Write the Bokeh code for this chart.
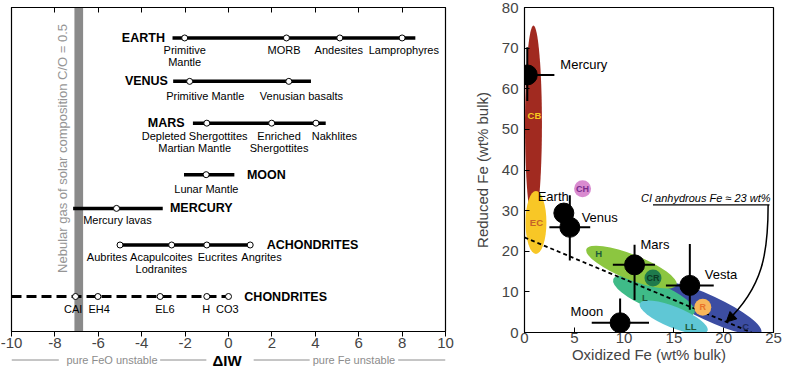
import math
from bokeh.plotting import figure
from bokeh.models import Range1d, LinearAxis, FixedTicker, Arrow, NormalHead
from bokeh.layouts import row, column
from bokeh.embed import file_html
from bokeh.resources import INLINE
from bokeh.core.properties import value

FONT = "Liberation Sans"

# ---------------- Left panel data (ΔIW) ----------------
DIW_TICKS = [-10, -8, -6, -4, -2, 0, 2, 4, 6, 8, 10]
NEBULAR_BAND = [-7.1, -6.7]
NEBULAR_TEXT = "Nebular gas of solar composition C/O = 0.5"

ROW_NAMES = ["EARTH", "VENUS", "MARS", "MOON", "MERCURY", "ACHONDRITES", "CHONDRITES"]
ROW_Y = [90.6, 77.2, 64.3, 48.4, 38.0, 26.7, 10.8]
ROW_START = [-2.58, -2.55, -1.64, -2.05, -7.16, -5.0, -10.0]
ROW_END = [8.61, 3.80, 4.48, 0.27, -3.03, 1.0, 0.0]
ROW_DASHED = [False, False, False, False, False, False, True]
NAME_X = [-2.93, -2.79, -2.02, 0.85, -2.70, 1.76, 0.73]
NAME_ALIGN = ["right", "right", "right", "left", "left", "left", "left"]
ROW_POINTS = [
    [-2.02, 2.67, 5.13, 8.0],
    [-1.79, 2.78],
    [-1.0, 1.99, 4.03],
    [-1.03],
    [-5.16],
    [-5.0, -2.62, -1.0, 1.0],
    [-7.05, -6.02, -3.15, -1.0, 0.0],
]
ROW_LABELS = [
    [("Primitive", "Mantle", -2.02), ("MORB", "", 2.56), ("Andesites", "", 5.08), ("Lamprophyres", "", 8.08)],
    [("Primitive Mantle", "", -1.07), ("Venusian basalts", "", 3.36)],
    [("Depleted Shergottites", "Martian Mantle", -1.56), ("Enriched", "Shergottites", 2.33), ("Nakhlites", "", 4.88)],
    [("Lunar Mantle", "", -1.02)],
    [("Mercury lavas", "", -5.12)],
    [("Aubrites", "", -5.6), ("Acapulcoites", "Lodranites", -3.1), ("Eucrites", "", -0.5), ("Angrites", "", 1.52)],
    [("CAI", "", -7.16), ("EH4", "", -5.96), ("EL6", "", -2.93), ("H", "", -1.03), ("CO3", "", -0.05)],
]
LABEL_DY = [12, 15, 13, 14, 12, 12, 12]

NOTE_SEG_X0 = [-10.0, -3.15, 1.16, 7.82]
NOTE_SEG_X1 = [-7.82, -1.02, 3.74, 10.0]
NOTE_TEXT = ["pure FeO unstable", "pure Fe unstable"]
NOTE_TEXT_X = [-5.37, 5.78]
NOTE_TITLE = "ΔIW"
NOTE_TITLE_X = -0.07

# ---------------- Right panel data ----------------
OX_TICKS = [0, 5, 10, 15, 20, 25]
RED_TICKS = [0, 10, 20, 30, 40, 50, 60, 70, 80]

# upright ellipses (data units)
UP_NAMES = ["CB", "EC"]
UP_X = [0.9, 1.15]
UP_Y = [51.3, 27.1]
UP_W = [1.7, 2.1]
UP_H = [48.5, 15.5]
UP_COLOR = ["#a12a20", "#f8c726"]

# tilted ellipses (centre in data units)
TI_NAMES = ["C", "L", "H", "LL"]
TI_X = [18.58, 13.0, 10.74, 14.98]
TI_Y = [5.98, 9.0, 16.1, 3.77]
TI_LEN = [114, 88, 97, 73]
TI_THK = [25, 26, 25, 21]
TI_ANG = [-25.0, -22.5, -21.8, -22.0]
TI_COLOR = ["#3c4da2", "#3fbb88", "#8cc640", "#5fc7d5"]

ELL_LABELS = ["CB", "EC", "H", "L", "LL", "C"]
ELL_LABEL_X = [1.0, 1.2, 7.46, 12.1, 16.7, 22.2]
ELL_LABEL_Y = [53.4, 27.2, 19.4, 8.5, 1.6, 1.6]
ELL_LABEL_COLOR = ["#f7c81e", "#c4622a", "#1d5b3a", "#1d5b3a", "#1d5b3a", "#1e2a5a"]

DOT_NAMES = ["CH", "CR", "R"]
DOT_X = [5.83, 12.9, 17.9]
DOT_Y = [35.4, 13.4, 6.2]
DOT_FILL = ["#d98bd0", "#1f7a4c", "#f8b65a"]
DOT_TEXT = ["#7b2c8c", "#0c3a24", "#e8732a"]

CI_X = [0.0, 22.8]
CI_Y = [23.4, 0.0]

PLANETS = ["Mercury", "Earth", "Venus", "Mars", "Vesta", "Moon"]
P_X = [0.28, 3.95, 4.55, 11.05, 16.6, 9.6]
P_Y = [63.4, 29.4, 25.9, 16.65, 11.6, 2.4]
P_XLO = [-2.4, 3.95, 2.5, 8.87, 14.2, 6.75]
P_XHI = [3.0, 3.95, 6.6, 13.1, 19.0, 12.5]
P_YLO = [57.0, 29.4, 17.7, 8.0, 5.6, -3.6]
P_YHI = [70.2, 29.4, 33.8, 21.6, 21.8, 8.4]
P_LBL_X = [3.6, 1.32, 5.74, 11.65, 18.1, 4.63]
P_LBL_Y = [66.0, 33.4, 28.2, 21.6, 14.4, 5.2]

CI_NOTE = "CI anhydrous Fe ≈ 23 wt%"
CI_NOTE_X = 24.7
CI_NOTE_Y = 31.4
CI_UNDERLINE_X = [12.9, 24.6]
ARROW_START = (24.46, 31.4)
ARROW_C1 = (24.46, 19.6)
ARROW_C2 = (23.97, 11.2)
ARROW_END = (20.25, 2.57)

# ======================= LEFT PANEL =======================
left = figure(width=457, height=351, x_range=Range1d(-10, 10), y_range=Range1d(0, 100),
              output_backend="svg", toolbar_location=None, y_axis_location=None,
              min_border_left=11, min_border_right=12, min_border_top=7, min_border_bottom=20)
left.outline_line_color = "black"
left.outline_line_width = 1.2
left.grid.visible = False
ax = left.xaxis[0]
ax.ticker = FixedTicker(ticks=DIW_TICKS)
ax.major_label_overrides = {t: str(t) for t in DIW_TICKS}
ax.major_tick_out = 5
ax.major_tick_in = 0
ax.minor_tick_line_color = None
ax.major_label_text_font = FONT
ax.major_label_text_font_size = "15px"
ax.major_label_standoff = 1
ax.axis_line_color = "black"

top = LinearAxis(ticker=FixedTicker(ticks=DIW_TICKS), major_tick_in=5, major_tick_out=0,
                 minor_tick_line_color=None, major_label_text_font_size="1px",
                 major_label_text_color=None, major_label_standoff=0, axis_line_color="black")
left.add_layout(top, "above")

left.quad(left=[NEBULAR_BAND[0]], right=[NEBULAR_BAND[1]], bottom=[left.y_range.start],
          top=[left.y_range.end], fill_color="#8a8a8a", line_color=None)
left.text(x=[NEBULAR_BAND[0] - 0.55], y=[56.5], text=[NEBULAR_TEXT], angle=math.pi / 2,
          text_align="center", text_baseline="middle", text_color="#959595",
          text_font=value(FONT), text_font_size="13px")

for i, name in enumerate(ROW_NAMES):
    y = ROW_Y[i]
    if ROW_DASHED[i]:
        left.line([ROW_START[i], ROW_END[i]], [y, y], line_width=3, line_color="black", line_dash="10 5")
    else:
        left.line([ROW_START[i], ROW_END[i]], [y, y], line_width=3.5, line_color="black")
    pts = ROW_POINTS[i]
    left.scatter(x=pts, y=[y] * len(pts), size=6, fill_color="white", line_color="black", line_width=1)
    left.text(x=[NAME_X[i]], y=[y], text=[name], text_align=NAME_ALIGN[i], text_baseline="middle",
              text_font=value(FONT), text_font_style="bold", text_font_size="12.5px", text_color="black")
    l1 = [lab[0] for lab in ROW_LABELS[i]]
    lx = [lab[2] for lab in ROW_LABELS[i]]
    left.text(x=lx, y=[y] * len(lx), text=l1, text_align="center", text_baseline="middle",
              y_offset=LABEL_DY[i], text_font=value(FONT), text_font_size="11px", text_color="black")
    l2 = [lab[1] for lab in ROW_LABELS[i] if lab[1]]
    lx2 = [lab[2] for lab in ROW_LABELS[i] if lab[1]]
    if l2:
        left.text(x=lx2, y=[y] * len(lx2), text=l2, text_align="center", text_baseline="middle",
                  y_offset=LABEL_DY[i] + 12, text_font=value(FONT), text_font_size="11px",
                  text_color="black")

note = figure(width=457, height=17, x_range=Range1d(-10, 10), y_range=Range1d(0, 1),
              output_backend="svg", toolbar_location=None, x_axis_location=None, y_axis_location=None,
              min_border_left=11, min_border_right=12, min_border_top=0, min_border_bottom=0)
note.outline_line_color = None
note.grid.visible = False
note.segment(x0=NOTE_SEG_X0, y0=[0.5] * 4, x1=NOTE_SEG_X1, y1=[0.5] * 4, line_color="#8c8c8c", line_width=1)
note.text(x=NOTE_TEXT_X, y=[0.5] * 2, text=NOTE_TEXT, text_align="center", text_baseline="middle",
          text_font=value(FONT), text_font_size="11px", text_color="#8c8c8c")
note.text(x=[NOTE_TITLE_X], y=[0.5], text=[NOTE_TITLE], text_align="center", text_baseline="middle",
          text_font=value(FONT), text_font_size="15px", text_font_style="bold", text_color="black")

# ======================= RIGHT PANEL =======================
r = figure(width=327, height=368, x_range=Range1d(0, 25), y_range=Range1d(0, 80),
           output_backend="svg", toolbar_location=None,
           min_border_left=67, min_border_right=11, min_border_top=7, min_border_bottom=36)
r.outline_line_color = "black"
r.outline_line_width = 1.2
r.grid.visible = False
for axis, ticks, lab in ((r.xaxis[0], OX_TICKS, "Oxidized Fe (wt% bulk)"),
                         (r.yaxis[0], RED_TICKS, "Reduced Fe (wt% bulk)")):
    axis.ticker = FixedTicker(ticks=ticks)
    axis.major_tick_in = 5
    axis.major_tick_out = 0
    axis.minor_tick_line_color = None
    axis.major_label_text_font = FONT
    axis.major_label_text_font_size = "15px"
    axis.axis_label = lab
    axis.axis_label_text_font = FONT
    axis.axis_label_text_font_size = "15px"
    axis.axis_label_text_font_style = "normal"
    axis.axis_line_color = "black"
r.xaxis[0].major_label_standoff = 0
r.xaxis[0].axis_label_standoff = 0
r.yaxis[0].major_label_standoff = 6
r.yaxis[0].axis_label_standoff = 8

r.ellipse(x=UP_X, y=UP_Y, width=UP_W, height=UP_H, fill_color=UP_COLOR, line_color=None)
r.ellipse(x=TI_X, y=TI_Y, width=TI_LEN, height=TI_THK, angle=[math.radians(a) for a in TI_ANG],
          width_units="screen", height_units="screen", fill_color=TI_COLOR, line_color=None)

r.line(CI_X, CI_Y, line_color="black", line_width=1.8, line_dash="4 3")

r.scatter(x=DOT_X, y=DOT_Y, size=17, fill_color=DOT_FILL, line_color=None)
r.text(x=DOT_X, y=DOT_Y, text=DOT_NAMES, text_color=DOT_TEXT, text_align="center", text_baseline="middle",
       text_font=value(FONT), text_font_style="bold", text_font_size="9px")
r.text(x=ELL_LABEL_X, y=ELL_LABEL_Y, text=ELL_LABELS, text_color=ELL_LABEL_COLOR, text_align="center",
       text_baseline="middle", text_font=value(FONT), text_font_style="bold", text_font_size="9.5px")

r.segment(x0=P_XLO, y0=P_Y, x1=P_XHI, y1=P_Y, line_color="black", line_width=2)
r.segment(x0=P_X, y0=P_YLO, x1=P_X, y1=P_YHI, line_color="black", line_width=2)
r.scatter(x=P_X, y=P_Y, size=20, fill_color="black", line_color="black")
r.text(x=P_LBL_X, y=P_LBL_Y, text=PLANETS, text_align="left", text_baseline="middle",
       text_font=value(FONT), text_font_size="13px", text_color="black")

r.segment(x0=[CI_UNDERLINE_X[0]], y0=[CI_NOTE_Y], x1=[CI_UNDERLINE_X[1]], y1=[CI_NOTE_Y],
          line_color="black", line_width=1.2)
r.text(x=[CI_NOTE_X], y=[CI_NOTE_Y], text=[CI_NOTE], text_align="right", text_baseline="bottom",
       y_offset=-1, text_font=value(FONT), text_font_style="italic", text_font_size="11px",
       text_color="black")
r.bezier(x0=[ARROW_START[0]], y0=[ARROW_START[1]], x1=[ARROW_END[0]], y1=[ARROW_END[1]],
         cx0=[ARROW_C1[0]], cy0=[ARROW_C1[1]], cx1=[ARROW_C2[0]], cy1=[ARROW_C2[1]],
         line_color="black", line_width=1.5)
hx = ARROW_END[0] + 0.12 * (ARROW_C2[0] - ARROW_END[0])
hy = ARROW_END[1] + 0.12 * (ARROW_C2[1] - ARROW_END[1])
r.add_layout(Arrow(end=NormalHead(size=10, fill_color="black", line_color="black"),
                   x_start=hx, y_start=hy, x_end=ARROW_END[0], y_end=ARROW_END[1],
                   line_color="black", line_width=1.5))

layout = row(column(left, note), r)
open("out.html", "w").write(file_html(layout, INLINE))
